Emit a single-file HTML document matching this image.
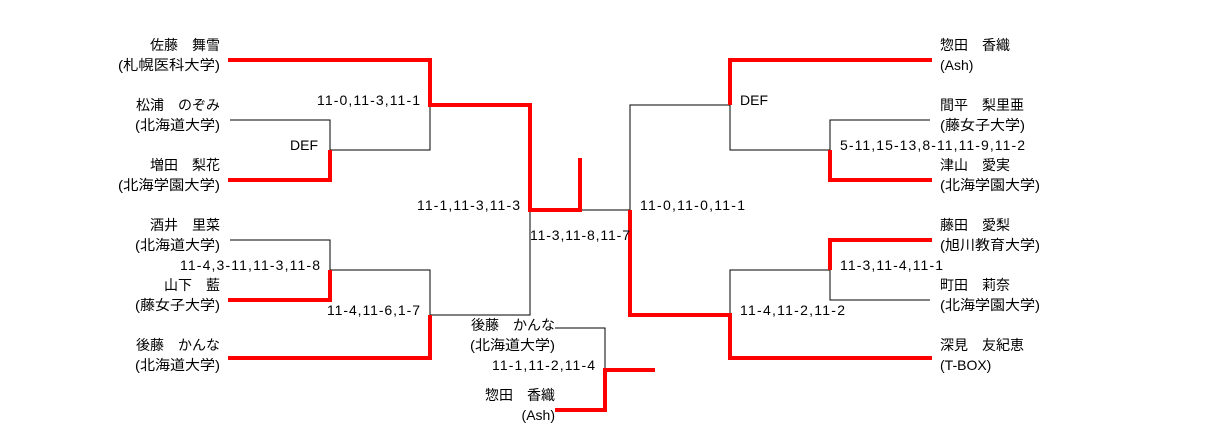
<!DOCTYPE html>
<html><head><meta charset="utf-8"><style>
html,body{margin:0;padding:0;background:#fff;}
svg{display:block;}
text{font-family:"Liberation Sans","Noto Sans CJK JP",sans-serif;font-size:14px;fill:#000;dominant-baseline:central;}
</style></head><body>
<svg width="1210" height="440" viewBox="0 0 1210 440" xmlns="http://www.w3.org/2000/svg">
<g stroke="#000" stroke-width="1" fill="none">
<polyline points="230,120 330,120 330,150 430,150 430,105"/>
<polyline points="230,240 330,240 330,270 430,270 430,315 530,315 530,210"/>
<polyline points="580,210 630,210"/>
<polyline points="555,328 605,328 605,370"/>
<polyline points="630,210 630,105 730,105 730,150 830,150 830,120 930,120"/>
<polyline points="730,315 730,270 830,270 830,300 930,300"/>
</g>
<g stroke="#f00" stroke-width="4" fill="none" stroke-linejoin="miter">
<polyline points="228,60 430,60 430,105 530,105 530,210 580,210 580,158"/>
<polyline points="228,180 330,180 330,150"/>
<polyline points="228,300 330,300 330,270"/>
<polyline points="228,358 430,358 430,315"/>
<polyline points="555,410 605,410 605,370 655,370"/>
<polyline points="630,210 630,315 730,315 730,358 932,358"/>
<polyline points="932,60 730,60 730,105"/>
<polyline points="932,180 830,180 830,150"/>
<polyline points="932,240 830,240 830,270"/>
</g>
<g text-anchor="end">
<text x="220" y="45">佐藤　舞雪</text>
<text x="220" y="65" textLength="102" lengthAdjust="spacingAndGlyphs">(札幌医科大学)</text>
<text x="220" y="105">松浦　のぞみ</text>
<text x="220" y="125" textLength="85" lengthAdjust="spacingAndGlyphs">(北海道大学)</text>
<text x="220" y="165">増田　梨花</text>
<text x="220" y="185" textLength="102" lengthAdjust="spacingAndGlyphs">(北海学園大学)</text>
<text x="220" y="225">酒井　里菜</text>
<text x="220" y="245" textLength="85" lengthAdjust="spacingAndGlyphs">(北海道大学)</text>
<text x="220" y="285">山下　藍</text>
<text x="220" y="305" textLength="85" lengthAdjust="spacingAndGlyphs">(藤女子大学)</text>
<text x="220" y="345">後藤　かんな</text>
<text x="220" y="365" textLength="85" lengthAdjust="spacingAndGlyphs">(北海道大学)</text>
<text x="555" y="325">後藤　かんな</text>
<text x="555" y="345" textLength="85" lengthAdjust="spacingAndGlyphs">(北海道大学)</text>
<text x="555" y="395">惣田　香織</text>
<text x="555" y="415">(Ash)</text>
</g>
<g>
<text x="940" y="45">惣田　香織</text>
<text x="940" y="65">(Ash)</text>
<text x="940" y="105">間平　梨里亜</text>
<text x="940" y="125" textLength="85" lengthAdjust="spacingAndGlyphs">(藤女子大学)</text>
<text x="940" y="165">津山　愛実</text>
<text x="940" y="185" textLength="100" lengthAdjust="spacingAndGlyphs">(北海学園大学)</text>
<text x="940" y="225">藤田　愛梨</text>
<text x="940" y="245" textLength="100" lengthAdjust="spacingAndGlyphs">(旭川教育大学)</text>
<text x="940" y="285">町田　莉奈</text>
<text x="940" y="305" textLength="100" lengthAdjust="spacingAndGlyphs">(北海学園大学)</text>
<text x="940" y="345">深見　友紀恵</text>
<text x="940" y="365">(T-BOX)</text>
</g>
<g>
<text x="317" y="100" textLength="103" lengthAdjust="spacing">11-0,11-3,11-1</text>
<text x="290" y="145">DEF</text>
<text x="417" y="205" textLength="103" lengthAdjust="spacing">11-1,11-3,11-3</text>
<text x="180" y="265" textLength="140" lengthAdjust="spacing">11-4,3-11,11-3,11-8</text>
<text x="327" y="310" textLength="93" lengthAdjust="spacing">11-4,11-6,1-7</text>
<text x="530" y="235" textLength="100" lengthAdjust="spacing">11-3,11-8,11-7</text>
<text x="492" y="365" textLength="103" lengthAdjust="spacing">11-1,11-2,11-4</text>
<text x="640" y="205" textLength="105" lengthAdjust="spacing">11-0,11-0,11-1</text>
<text x="740" y="100">DEF</text>
<text x="840" y="145" textLength="185" lengthAdjust="spacing">5-11,15-13,8-11,11-9,11-2</text>
<text x="840" y="265" textLength="103" lengthAdjust="spacing">11-3,11-4,11-1</text>
<text x="740" y="310" textLength="105" lengthAdjust="spacing">11-4,11-2,11-2</text>
</g>
</svg>
</body></html>
